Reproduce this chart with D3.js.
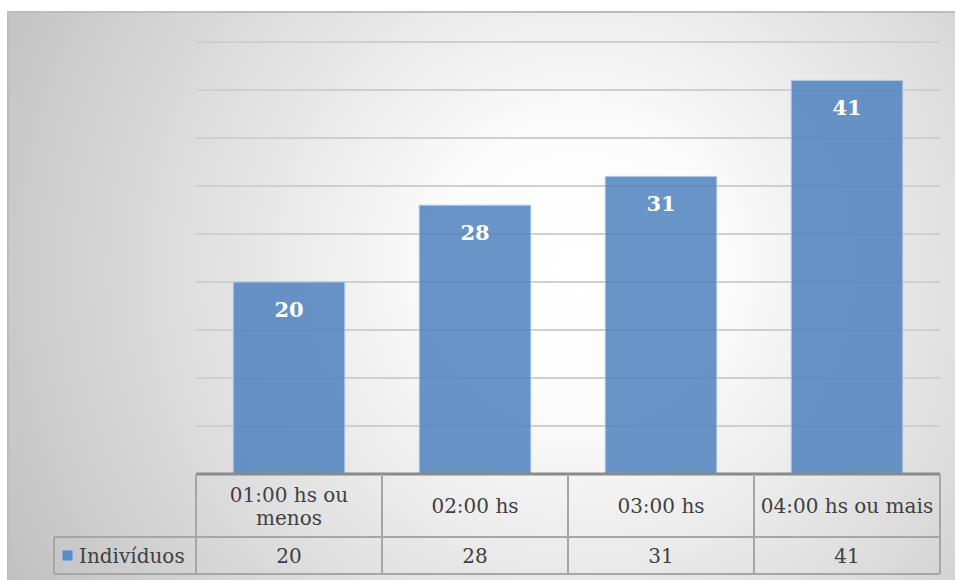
<!DOCTYPE html>
<html>
<head>
<meta charset="utf-8">
<script src="https://cdn.jsdelivr.net/npm/d3@7"></script>
<style>
  body { margin: 0; background: #fff; }
  svg { display: block; }
</style>
</head>
<body>
<svg width="955" height="580"></svg>
<script>
var categories = [["01:00 hs ou", "menos"], ["02:00 hs"], ["03:00 hs"], ["04:00 hs ou mais"]];
var values = [20, 28, 31, 41];
var seriesName = "Indivíduos";
var yTicks = [0, 5, 10, 15, 20, 25, 30, 35, 40, 45];

var svg = d3.select("svg");
var font = "'DejaVu Serif', serif";

var defs = svg.append("defs");
var grad = defs.append("radialGradient").attr("id", "bg")
  .attr("gradientUnits", "userSpaceOnUse")
  .attr("cx", 580).attr("cy", 270).attr("r", 640);
grad.append("stop").attr("offset", "0%").attr("stop-color", "#ffffff");
grad.append("stop").attr("offset", "22%").attr("stop-color", "#fcfcfc");
grad.append("stop").attr("offset", "100%").attr("stop-color", "#c2c2c2");

// chart area
svg.append("rect").attr("x", 8).attr("y", 12).attr("width", 960).attr("height", 580)
  .attr("fill", "url(#bg)").attr("stroke", "#bdbdbd").attr("stroke-width", 2);

var plotL = 196, plotR = 940, plotT = 42, base = 474;

var x = d3.scaleBand().domain(d3.range(values.length)).range([plotL, plotR]).paddingInner(0.4).paddingOuter(0.2);
var cols = d3.scaleBand().domain(d3.range(values.length)).range([plotL, plotR]);
var y = d3.scaleLinear().domain([0, 45]).range([base, plotT]);

// gridlines
svg.append("g").selectAll("line").data(yTicks.slice(1)).enter().append("line")
  .attr("x1", plotL).attr("x2", plotR)
  .attr("y1", function(d) { return y(d); }).attr("y2", function(d) { return y(d); })
  .attr("stroke", "#cfcfcf").attr("stroke-width", 2);

// bars
svg.append("g").selectAll("rect").data(values).enter().append("rect")
  .attr("x", function(d, i) { return x(i); })
  .attr("y", function(d) { return y(d); })
  .attr("width", x.bandwidth())
  .attr("height", function(d) { return base - y(d); })
  .attr("fill", "rgba(79,129,189,0.85)")
  .attr("stroke", "#b4cbe8").attr("stroke-width", 1);

svg.append("g").selectAll("text").data(values).enter().append("text")
  .attr("x", function(d, i) { return x(i) + x.bandwidth() / 2; })
  .attr("y", function(d) { return y(d) + 35; })
  .attr("text-anchor", "middle")
  .attr("font-family", font).attr("font-weight", "bold").attr("font-size", 21)
  .attr("fill", "#fff")
  .text(function(d) { return d; });

// data table
var rowMid = 537, rowBot = 574, legL = 54;
var tbl = svg.append("g").attr("stroke", "#a6a6a6").attr("stroke-width", 2).attr("fill", "none");
tbl.append("line").attr("x1", plotL).attr("x2", plotR).attr("y1", base).attr("y2", base).attr("stroke", "#8a8a8a").attr("stroke-width", 3);
tbl.append("line").attr("x1", legL).attr("x2", plotR).attr("y1", rowMid).attr("y2", rowMid);
tbl.append("line").attr("x1", legL).attr("x2", plotR).attr("y1", rowBot).attr("y2", rowBot);
tbl.append("line").attr("x1", legL).attr("x2", legL).attr("y1", rowMid).attr("y2", rowBot);
tbl.selectAll(".v").data(d3.range(values.length + 1)).enter().append("line")
  .attr("x1", function(i) { return plotL + i * cols.bandwidth(); })
  .attr("x2", function(i) { return plotL + i * cols.bandwidth(); })
  .attr("y1", base).attr("y2", rowBot);

var catG = svg.append("g").selectAll("text").data(categories).enter().append("text")
  .attr("text-anchor", "middle")
  .attr("font-family", font).attr("font-size", 20).attr("fill", "#404040");
catG.each(function(lines, i) {
  var t = d3.select(this);
  var cx = cols(i) + cols.bandwidth() / 2;
  var y0 = (base + rowMid) / 2 + 7 - (lines.length - 1) * 11;
  lines.forEach(function(l, k) {
    t.append("tspan").attr("x", cx).attr("y", y0 + k * 23).text(l);
  });
});

svg.append("g").selectAll("text").data(values).enter().append("text")
  .attr("x", function(d, i) { return cols(i) + cols.bandwidth() / 2; })
  .attr("y", (rowMid + rowBot) / 2 + 7)
  .attr("text-anchor", "middle")
  .attr("font-family", font).attr("font-size", 20).attr("fill", "#404040")
  .text(function(d) { return d; });

svg.append("rect").attr("x", 62).attr("y", 550).attr("width", 11).attr("height", 11)
  .attr("fill", "#5b8bc6").attr("stroke", "#b4cbe8");
svg.append("text").attr("x", 79).attr("y", (rowMid + rowBot) / 2 + 7)
  .attr("font-family", font).attr("font-size", 20).attr("fill", "#404040")
  .text(seriesName);
</script>
</body>
</html>
